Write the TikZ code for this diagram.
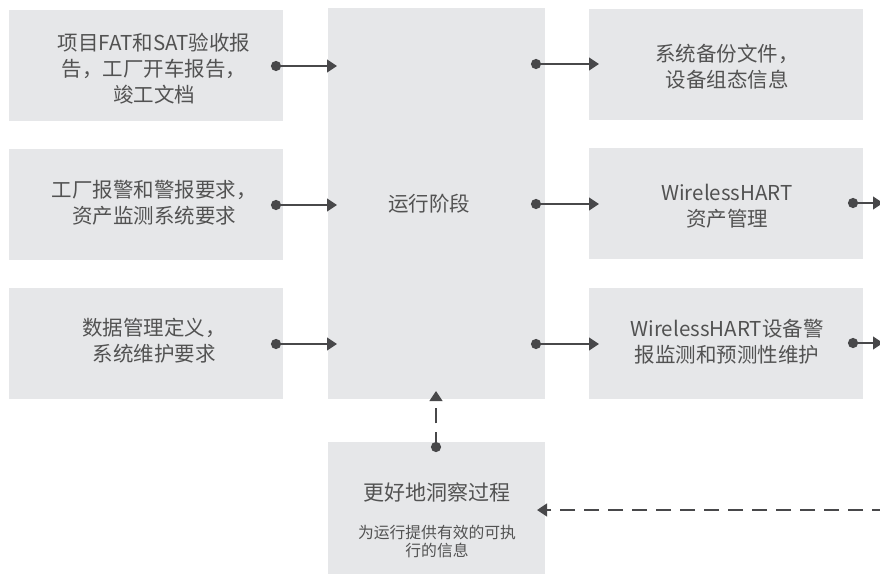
\documentclass[tikz,border=0pt]{standalone}
\usepackage{fontspec}
\setmainfont{Noto Sans CJK SC}
\usetikzlibrary{arrows.meta}
\definecolor{boxfill}{HTML}{E6E7E9}
\definecolor{txt}{HTML}{525252}
\definecolor{arr}{HTML}{48484A}
\tikzset{
  box/.style={fill=boxfill, draw=none, inner sep=0pt},
  sbox/.style={box, minimum width=274pt, minimum height=111pt},
  lbl/.style={text=txt, align=center, inner sep=0pt,
    font=\fontsize{20.5}{26}\selectfont},
  conn/.style={draw=arr, line width=2.7pt,
    {Circle[length=10pt]}-{Triangle[length=10pt,width=12.5pt]}},
  dashconn/.style={draw=arr, line width=2.9pt, dash pattern=on 15pt off 9pt},
}
\begin{document}
\begin{tikzpicture}[x=1pt,y=-1pt]
\useasboundingbox (0,0) rectangle (880,573);
% left boxes
\node[sbox] (L1) at (146,65.5) {};
\node[sbox] (L2) at (146,204.5) {};
\node[sbox] (L3) at (146,343.5) {};
\node[lbl] (L1t) at (154,69) {项目FAT和SAT验收报\\告，工厂开车报告，\\竣工文档};
\node[lbl] (L2t) at (154,203) {工厂报警和警报要求，\\资产监测系统要求};
\node[lbl] (L3t) at (154,341) {数据管理定义，\\系统维护要求};
% centre box
\node[box, minimum width=217pt, minimum height=391pt] (C) at (436.5,203.5) {};
\node[lbl] (Ct) at (429,204) {运行阶段};
% right boxes
\node[sbox] (R1) at (726,64) {};
\node[sbox] (R2) at (726,203.5) {};
\node[sbox] (R3) at (726,343.5) {};
\node[lbl] (R1t) at (727,66.5) {系统备份文件，\\设备组态信息};
\node[lbl] (R2t) at (727,206.5) {WirelessHART\\资产管理};
\node[lbl] (R3t) at (727,341.5) {WirelessHART设备警\\报监测和预测性维护};
% bottom box
\node[box, minimum width=217pt, minimum height=134pt] (B) at (436.5,509) {};
\node[lbl, font=\fontsize{21}{26}\selectfont] (Bt) at (437,492) {更好地洞察过程};
\node[lbl, font=\fontsize{15.8}{18}\selectfont] (Bs) at (437,541.5)
  {为运行提供有效的可执\\行的信息};
% connector coordinates
\coordinate (l1o) at (271,66);  \coordinate (c1i) at (337,66);
\coordinate (l2o) at (271,205); \coordinate (c2i) at (337,205);
\coordinate (l3o) at (271,344); \coordinate (c3i) at (337,344);
\coordinate (c1o) at (531,64);  \coordinate (r1i) at (599,64);
\coordinate (c2o) at (531,204); \coordinate (r2i) at (599,204);
\coordinate (c3o) at (531,344); \coordinate (r3i) at (599,344);
\coordinate (r2o) at (848,203); \coordinate (r2x) at (883,203);
\coordinate (r3o) at (848,343); \coordinate (r3x) at (883,343);
\coordinate (bo) at (436,452);  \coordinate (ci) at (436,391);
\coordinate (fb) at (884,510);  \coordinate (bi) at (537,510);
% solid connectors
\foreach \a/\b in {l1o/c1i, l2o/c2i, l3o/c3i, c1o/r1i, c2o/r2i, c3o/r3i, r2o/r2x, r3o/r3x}
  \draw[conn] (\a) -- (\b);
% dashed connectors
\draw[dashconn, dash phase=4pt, {Circle[length=10pt]}-{Triangle[length=10pt,width=12.5pt]}] (bo) -- (ci);
\draw[dashconn, dash phase=3pt, -{Triangle[length=10pt,width=12.5pt]}] (fb) -- (bi);
\end{tikzpicture}
\end{document}
